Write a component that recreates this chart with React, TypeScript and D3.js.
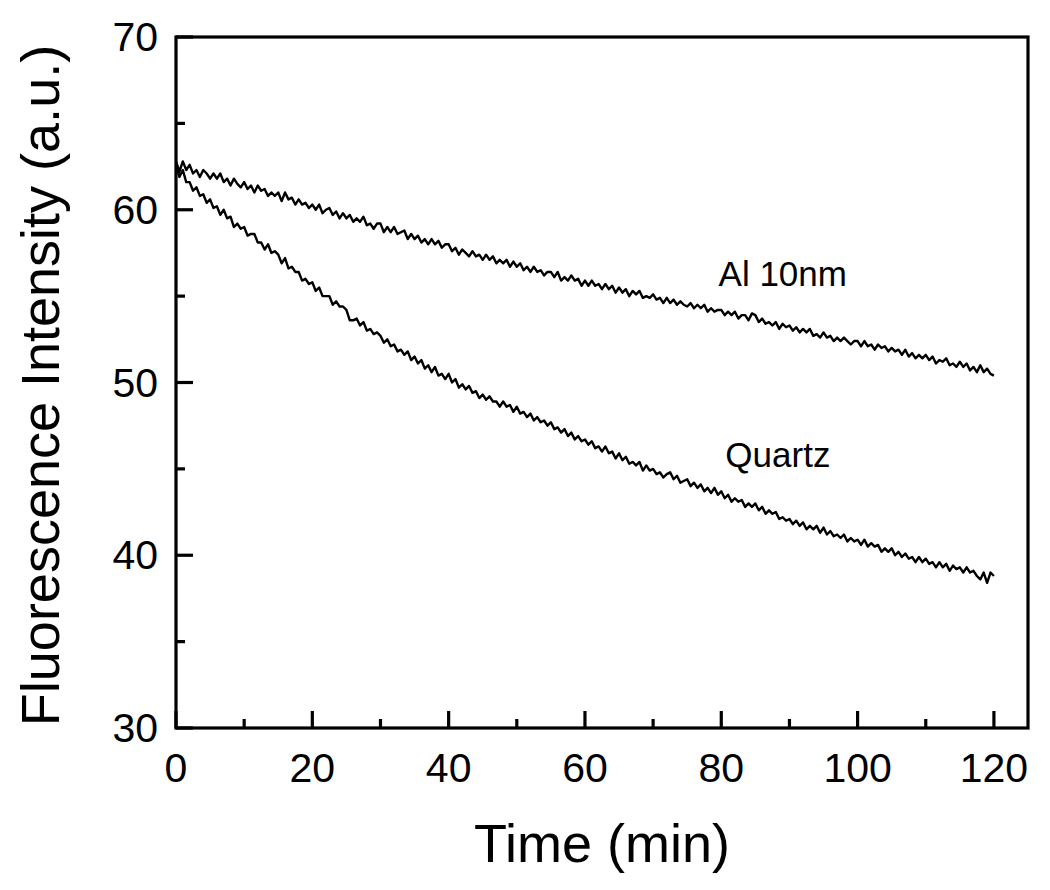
import { useEffect, useRef } from 'react';
import * as d3 from 'd3';

// sampled every 0.5 min from 0 to 120
const sampleStep = 0.5;

const al10nm = [
  62.8, 62.2, 62.8, 62.3, 62.6, 62.1, 62.3, 61.9, 62.3, 62.1,
  61.8, 62.1, 61.8, 62.1, 61.6, 61.8, 61.4, 61.8, 61.5, 61.3,
  61.6, 61.2, 61.4, 61.0, 61.4, 61.1, 61.2, 60.8, 61.0, 60.8,
  61.0, 60.5, 61.0, 60.6, 60.7, 60.3, 60.6, 60.3, 60.4, 60.1,
  60.3, 60.0, 60.3, 59.8, 60.0, 60.1, 59.7, 59.9, 59.5, 59.8,
  59.5, 59.7, 59.3, 59.5, 59.3, 59.6, 59.1, 59.2, 58.9, 59.2,
  59.2, 58.7, 59.0, 58.7, 59.0, 58.6, 58.7, 58.8, 58.3, 58.6,
  58.3, 58.5, 58.1, 58.3, 58.0, 58.3, 58.0, 58.2, 57.8, 58.0,
  58.0, 57.6, 57.8, 57.4, 57.7, 57.5, 57.3, 57.6, 57.3, 57.4,
  57.1, 57.4, 57.1, 57.3, 56.9, 57.1, 56.9, 57.1, 56.7, 57.0,
  56.7, 56.9, 56.5, 56.7, 56.4, 56.7, 56.4, 56.5, 56.2, 56.4,
  56.4, 56.1, 56.4, 55.9, 56.1, 55.9, 56.2, 55.9, 56.0, 55.6,
  55.9, 55.6, 55.9, 55.6, 55.7, 55.4, 55.7, 55.4, 55.6, 55.2,
  55.5, 55.2, 55.4, 55.0, 55.3, 55.1, 55.3, 54.9, 55.0, 54.9,
  55.1, 54.8, 54.9, 54.6, 54.9, 54.6, 54.8, 54.5, 54.7, 54.5,
  54.4, 54.6, 54.3, 54.5, 54.3, 54.5, 54.1, 54.3, 54.1, 54.2,
  54.2, 53.9, 54.1, 53.9, 54.1, 53.7, 53.9, 53.9, 53.6, 54.0,
  53.9, 53.5, 53.7, 53.4, 53.5, 53.3, 53.5, 53.1, 53.4, 53.2,
  53.3, 53.0, 53.2, 52.9, 53.1, 52.9, 53.1, 52.7, 52.8, 52.6,
  52.9, 52.6, 52.7, 52.4, 52.6, 52.4, 52.6, 52.4, 52.2, 52.4,
  52.4, 52.1, 52.4, 52.1, 52.2, 51.9, 52.2, 52.0, 52.1, 51.8,
  52.0, 51.8, 51.9, 51.6, 51.9, 51.5, 51.7, 51.4, 51.6, 51.4,
  51.6, 51.3, 51.5, 51.1, 51.3, 51.2, 51.4, 51.0, 51.1, 50.9,
  51.2, 50.9, 51.1, 50.7, 50.9, 50.6, 51.0, 50.6, 50.8, 50.5,
  50.4,
];

const quartz = [
  62.6, 61.9, 62.3, 61.6, 61.6, 61.1, 61.3, 60.8, 60.9, 60.4,
  60.6, 60.1, 60.2, 59.7, 60.0, 59.5, 59.6, 59.0, 59.2, 58.9,
  59.0, 58.5, 58.6, 58.6, 58.1, 58.1, 57.7, 58.0, 57.5, 57.6,
  57.4, 56.9, 57.2, 56.6, 56.7, 56.4, 56.4, 55.9, 56.0, 55.7,
  55.8, 55.3, 55.5, 55.0, 55.0, 55.0, 54.5, 54.7, 54.4, 54.4,
  54.2, 53.6, 53.6, 53.7, 53.3, 53.5, 53.0, 53.1, 52.8, 52.9,
  52.7, 52.3, 52.5, 52.1, 52.2, 51.8, 51.9, 51.6, 51.8, 51.3,
  51.5, 51.1, 51.3, 50.8, 51.0, 50.6, 50.9, 50.4, 50.5, 50.2,
  50.5, 50.0, 50.2, 49.7, 49.9, 49.6, 49.8, 49.4, 49.5, 49.1,
  49.3, 49.0, 49.2, 48.9, 48.9, 48.6, 48.9, 48.6, 48.7, 48.3,
  48.6, 48.2, 48.3, 48.0, 48.2, 47.8, 48.0, 47.7, 47.8, 47.5,
  47.7, 47.3, 47.4, 47.1, 47.3, 46.9, 47.1, 46.7, 46.9, 46.6,
  46.7, 46.4, 46.6, 46.2, 46.3, 46.0, 46.3, 45.9, 46.0, 45.6,
  45.9, 45.5, 45.7, 45.3, 45.4, 45.2, 45.4, 44.9, 45.2, 44.9,
  45.0, 44.7, 44.8, 44.5, 44.7, 44.8, 44.4, 44.6, 44.2, 44.3,
  44.4, 44.0, 44.2, 43.9, 44.1, 43.7, 43.9, 43.6, 43.9, 43.5,
  43.7, 43.3, 43.5, 43.1, 43.3, 43.1, 43.2, 42.8, 43.0, 42.8,
  43.0, 42.6, 42.8, 42.4, 42.6, 42.4, 42.5, 42.1, 42.2, 42.0,
  42.1, 41.8, 42.0, 41.7, 41.9, 41.5, 41.7, 41.5, 41.7, 41.3,
  41.6, 41.2, 41.4, 41.1, 41.2, 41.0, 41.2, 40.8, 41.0, 40.8,
  40.9, 40.6, 40.9, 40.5, 40.7, 40.5, 40.6, 40.2, 40.4, 40.2,
  40.4, 40.0, 40.2, 39.9, 40.1, 39.8, 39.9, 39.6, 39.9, 39.6,
  39.8, 39.5, 39.6, 39.3, 39.6, 39.3, 39.5, 39.1, 39.4, 39.2,
  39.3, 39.0, 39.3, 39.0, 39.1, 38.8, 38.6, 39.0, 38.4, 39.0,
  38.8,
];

const xMajorTicks = [0, 20, 40, 60, 80, 100, 120];
const xMinorTicks = [10, 30, 50, 70, 90, 110];
const yMajorTicks = [30, 40, 50, 60, 70];
const yMinorTicks = [35, 45, 55, 65];

const labels = [
  { text: 'Al 10nm', t: 79.6, v: 55.6 },
  { text: 'Quartz', t: 80.6, v: 45.1 },
];

const WIDTH = 1050;
const HEIGHT = 890;
const FONT = '"Liberation Sans", Arial, Helvetica, sans-serif';

export default function App() {
  const svgRef = useRef<SVGSVGElement>(null);

  useEffect(() => {
    if (!svgRef.current) return;
    const svg = d3.select(svgRef.current);
    svg.selectAll('*').remove();

    const margin = { top: 37, right: 22, bottom: 162, left: 176 };
    const innerWidth = WIDTH - margin.left - margin.right;
    const innerHeight = HEIGHT - margin.top - margin.bottom;

    const g = svg
      .append('g')
      .attr('transform', `translate(${margin.left},${margin.top})`);

    const x = d3.scaleLinear().domain([0, 125]).range([0, innerWidth]);
    const y = d3.scaleLinear().domain([30, 70]).range([innerHeight, 0]);

    const line = d3
      .line<number>()
      .x((_, i) => x(i * sampleStep))
      .y((d) => y(d));

    // traces
    [al10nm, quartz].forEach((series) => {
      g.append('path')
        .datum(series)
        .attr('d', line)
        .attr('fill', 'none')
        .attr('stroke', '#000')
        .attr('stroke-width', 2.4)
        .attr('stroke-linejoin', 'round');
    });

    // frame
    g.append('rect')
      .attr('x', 0)
      .attr('y', 0)
      .attr('width', innerWidth)
      .attr('height', innerHeight)
      .attr('fill', 'none')
      .attr('stroke', '#000')
      .attr('stroke-width', 3.2);

    // inward ticks on bottom and left
    const tick = (x1: number, y1: number, x2: number, y2: number) =>
      g.append('line')
        .attr('x1', x1).attr('y1', y1)
        .attr('x2', x2).attr('y2', y2)
        .attr('stroke', '#000')
        .attr('stroke-width', 3.2);

    xMajorTicks.forEach((t) => tick(x(t), innerHeight, x(t), innerHeight - 17));
    xMinorTicks.forEach((t) => tick(x(t), innerHeight, x(t), innerHeight - 9));
    yMajorTicks.forEach((v) => tick(0, y(v), 17, y(v)));
    yMinorTicks.forEach((v) => tick(0, y(v), 9, y(v)));

    // tick labels
    xMajorTicks.forEach((t) => {
      g.append('text')
        .attr('x', x(t))
        .attr('y', innerHeight + 54)
        .attr('text-anchor', 'middle')
        .attr('font-family', FONT)
        .attr('font-size', 41)
        .attr('fill', '#000')
        .text(t);
    });
    yMajorTicks.forEach((v) => {
      g.append('text')
        .attr('x', -18)
        .attr('y', y(v))
        .attr('text-anchor', 'end')
        .attr('dominant-baseline', 'central')
        .attr('font-family', FONT)
        .attr('font-size', 41)
        .attr('fill', '#000')
        .text(v);
    });

    // axis titles
    svg.append('text')
      .attr('x', margin.left + x(62.5))
      .attr('y', 862)
      .attr('text-anchor', 'middle')
      .attr('font-family', FONT)
      .attr('font-size', 54)
      .attr('fill', '#000')
      .text('Time (min)');

    svg.append('text')
      .attr('transform', `translate(59,${margin.top + innerHeight / 2 + 3}) rotate(-90)`)
      .attr('text-anchor', 'middle')
      .attr('font-family', FONT)
      .attr('font-size', 54)
      .attr('fill', '#000')
      .text('Fluorescence Intensity (a.u.)');

    // series labels
    labels.forEach((d) => {
      g.append('text')
        .attr('x', x(d.t))
        .attr('y', y(d.v))
        .attr('font-family', FONT)
        .attr('font-size', 35)
        .attr('fill', '#000')
        .text(d.text);
    });
  }, []);

  return (
    <svg
      ref={svgRef}
      width={WIDTH}
      height={HEIGHT}
      style={{ position: 'absolute', left: 0, top: 0, background: '#fff' }}
    />
  );
}
